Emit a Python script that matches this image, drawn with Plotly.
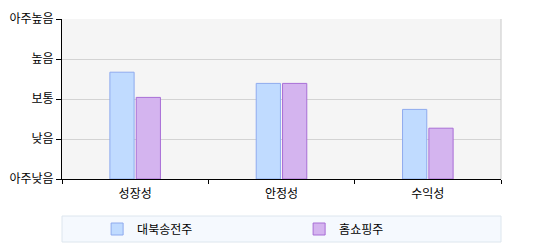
import plotly.graph_objects as go

categories = ["성장성", "안정성", "수익성"]
series_names = ["대북송전주", "홈쇼핑주"]
values_a = [2.67, 2.39, 1.74]
values_b = [2.04, 2.39, 1.27]
y_tick_vals = [0, 1, 2, 3, 4]
y_tick_labels = ["아주낮음", "낮음", "보통", "높음", "아주높음"]

FONT = "Noto Sans CJK KR"

fig = go.Figure()
fig.add_trace(go.Bar(x=categories, y=values_a, name=series_names[0],
                     marker=dict(color="#c0dbff", line=dict(color="#8eaaee", width=1))))
fig.add_trace(go.Bar(x=categories, y=values_b, name=series_names[1],
                     marker=dict(color="#d4b4ef", line=dict(color="#a86ed6", width=1))))

fig.update_layout(
    width=544, height=250,
    margin=dict(l=62, r=43, t=19, b=71, autoexpand=False),
    paper_bgcolor="white", plot_bgcolor="#f5f5f5",
    font=dict(family=FONT, size=12, color="black"),
    barmode="group", bargap=0.64, bargroupgap=0.08,
    showlegend=True,
    legend=dict(orientation="h", x=0.08, xanchor="left", y=-0.3125, yanchor="middle",
                bgcolor="rgba(0,0,0,0)", entrywidth=157, entrywidthmode="pixels",
                itemwidth=30, font=dict(family=FONT, size=12)),
    shapes=[
        dict(type="rect", xref="paper", yref="paper", x0=0, x1=1.0,
             y0=-(242 - 179) / 160, y1=-(216 - 179) / 160,
             fillcolor="#f5f9fe", line=dict(color="#dde6ee", width=1), layer="below"),
        dict(type="line", xref="paper", yref="paper", x0=1, x1=1, y0=0, y1=1,
             line=dict(color="#c8c8c8", width=1)),
    ],
)
fig.update_xaxes(showline=True, linecolor="black", linewidth=1,
                 ticks="outside", ticklen=4, tickcolor="black", tickson="boundaries",
                 ticklabelstandoff=4,
                 showgrid=False, tickfont=dict(size=12))
fig.update_yaxes(range=[0, 4], tickvals=y_tick_vals, ticktext=y_tick_labels,
                 showline=True, linecolor="black", linewidth=1,
                 ticks="outside", ticklen=5, tickcolor="black",
                 showgrid=True, gridcolor="#d3d3d3", gridwidth=1, zeroline=False,
                 tickfont=dict(size=12))

fig.write_html("out.html")
